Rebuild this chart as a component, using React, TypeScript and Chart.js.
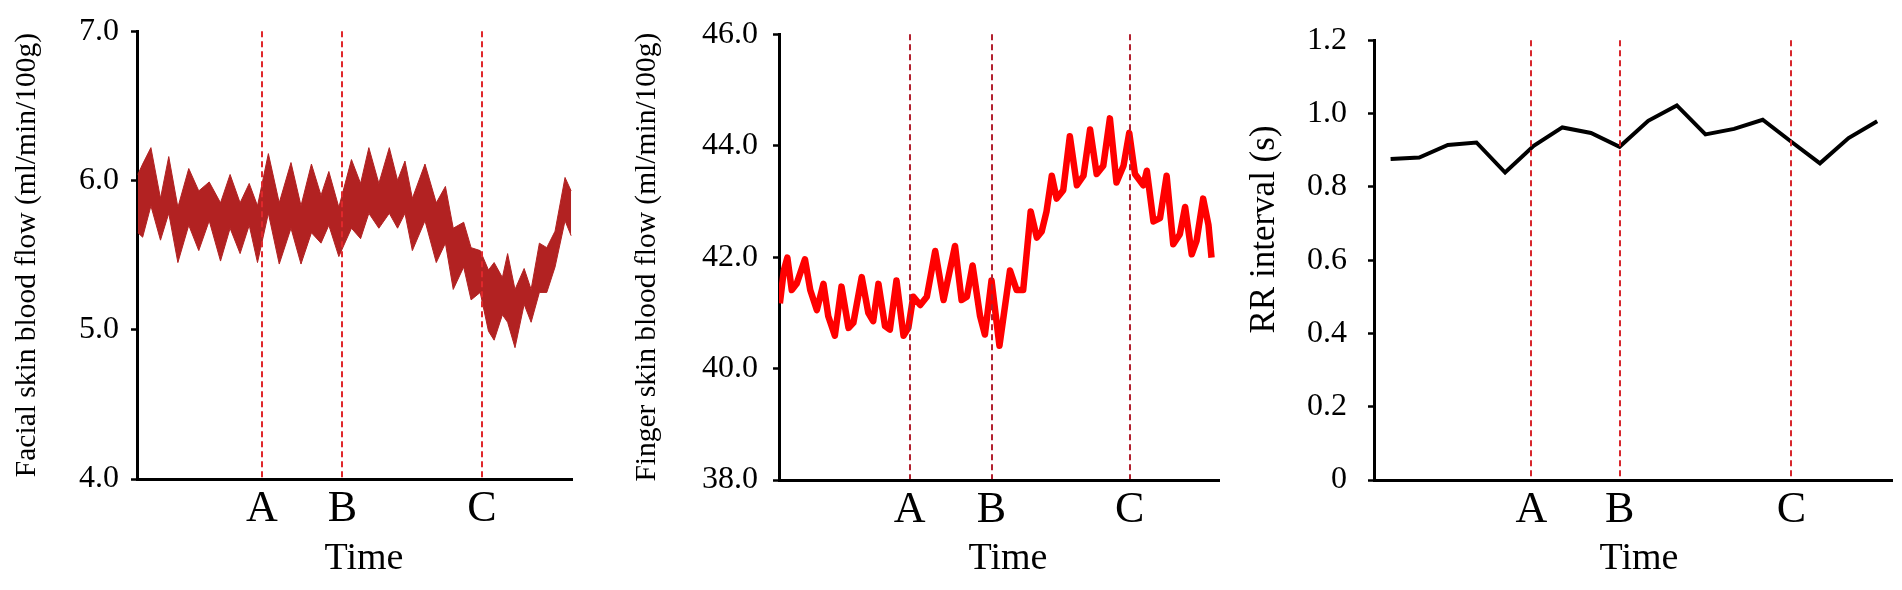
import React, { useEffect, useRef } from 'react';
import { Chart, registerables } from 'chart.js';

Chart.register(...registerables);

const FONT = "'Liberation Serif', 'Times New Roman', Times, serif";
Chart.defaults.font.family = FONT;
Chart.defaults.color = '#000';

// ---------- shared ----------
const eventLabels = ['A', 'B', 'C'];
const xAxisTitle = 'Time';

// ---------- Panel 1: facial skin blood flow (band: upper / lower envelope) ----------
const faceTime = [0.2, 1.3, 3.2, 5.4, 7.3, 9.4, 11.9, 14.2, 16.6, 19.2, 21.4, 23.7, 25.8, 27.7, 30.2, 32.7, 35.4, 37.7, 40.1, 42.3, 44.1, 46.4, 49.3, 51.4, 53.3, 55.6, 58.0, 59.9, 61.6, 63.3, 66.2, 68.8, 70.9, 72.7, 75.1, 76.8, 78.9, 80.8, 82.1, 84.0, 85.2, 86.9, 89.0, 90.6, 92.5, 94.2, 96.1, 98.4, 99.8];
const faceUpper = [6.04, 6.11, 6.22, 5.88, 6.16, 5.82, 6.08, 5.93, 5.99, 5.85, 6.04, 5.85, 5.98, 5.83, 6.18, 5.85, 6.12, 5.83, 6.11, 5.90, 6.06, 5.82, 6.14, 5.98, 6.22, 5.98, 6.22, 6.00, 6.13, 5.88, 6.11, 5.85, 5.96, 5.68, 5.72, 5.55, 5.53, 5.40, 5.45, 5.35, 5.51, 5.27, 5.41, 5.27, 5.58, 5.55, 5.66, 6.02, 5.93];
const faceLower = [5.65, 5.62, 5.83, 5.60, 5.78, 5.45, 5.70, 5.53, 5.73, 5.46, 5.68, 5.51, 5.70, 5.45, 5.78, 5.44, 5.68, 5.44, 5.65, 5.58, 5.70, 5.49, 5.68, 5.61, 5.78, 5.68, 5.78, 5.68, 5.78, 5.53, 5.73, 5.45, 5.58, 5.27, 5.42, 5.20, 5.25, 4.99, 4.93, 5.10, 5.05, 4.88, 5.17, 5.05, 5.25, 5.25, 5.42, 5.73, 5.63];
const faceEvents = [28.7, 47.2, 79.3];
const faceTicks = [4, 5, 6, 7];

// ---------- Panel 2: finger skin blood flow ----------
const fingerTime = [0.2, 1.1, 1.9, 2.9, 4.0, 5.9, 7.1, 8.6, 10.1, 11.2, 12.7, 14.2, 15.8, 16.9, 18.8, 20.3, 21.4, 22.6, 24.1, 25.2, 26.7, 28.3, 29.4, 30.5, 32.1, 33.6, 35.5, 37.4, 40.0, 41.5, 42.7, 44.0, 45.7, 46.8, 48.3, 50.1, 52.5, 54.0, 55.5, 57.2, 58.6, 59.7, 60.8, 62.0, 63.1, 64.6, 66.1, 67.7, 69.2, 70.7, 72.2, 73.7, 75.2, 76.7, 78.3, 79.6, 80.9, 82.8, 83.6, 85.1, 86.6, 88.1, 89.6, 91.1, 92.3, 93.8, 94.9, 96.4, 97.6, 98.3];
const fingerFlow = [41.17, 41.76, 41.99, 41.41, 41.52, 41.96, 41.41, 41.05, 41.52, 40.94, 40.59, 41.47, 40.73, 40.82, 41.64, 41.00, 40.85, 41.52, 40.76, 40.70, 41.58, 40.59, 40.73, 41.29, 41.14, 41.29, 42.11, 41.23, 42.20, 41.23, 41.29, 41.85, 40.94, 40.61, 41.58, 40.41, 41.76, 41.41, 41.41, 42.82, 42.35, 42.46, 42.82, 43.46, 43.05, 43.20, 44.17, 43.29, 43.46, 44.29, 43.49, 43.64, 44.49, 43.34, 43.64, 44.23, 43.49, 43.29, 43.55, 42.64, 42.70, 43.46, 42.23, 42.41, 42.90, 42.05, 42.29, 43.05, 42.58, 41.99];
const fingerEvents = [29.7, 48.3, 79.7];
const fingerTicks = [38, 40, 42, 44, 46];

// ---------- Panel 3: RR interval ----------
const rrBeat = [0, 1, 2, 3, 4, 5, 6, 7, 8, 9, 10, 11, 12, 13, 14, 15, 16, 17];
const rrInterval = [0.876, 0.880, 0.914, 0.921, 0.839, 0.912, 0.962, 0.947, 0.909, 0.980, 1.022, 0.943, 0.958, 0.983, 0.923, 0.864, 0.933, 0.979];
const rrEvents = [4.92, 8.0, 14.0];
const rrTicks = [0, 0.2, 0.4, 0.6, 0.8, 1.0, 1.2];

const pts = (xs: number[], ys: number[]) => xs.map((x, i) => ({ x, y: ys[i] }));

type PanelOpts = {
  xMin: number;
  xMax: number;
  events: number[];
  dashColor: string;
  yTicks: number[];
  yFormat: (v: number) => string;
  yTitle: string;
  yTitleSize: number;
  yTitlePad: number;
  yWidth: number;
  yTickPad: number;
  rightWidth: number;
  xHeight: number;
  padTop: number;
};

const TITLE_SIZE = 38;
const TITLE_PAD_BOTTOM = 8;

function buildOptions(p: PanelOpts): any {
  const yMin = p.yTicks[0];
  const yMax = p.yTicks[p.yTicks.length - 1];
  return {
    responsive: false,
    animation: false,
    events: [],
    layout: { padding: { left: 0, right: 0, top: p.padTop, bottom: 0 } },
    plugins: {
      legend: { display: false },
      tooltip: { enabled: false },
      title: {
        display: true,
        position: 'bottom',
        align: 'center',
        fullSize: true,
        text: xAxisTitle,
        color: '#000',
        font: { family: FONT, size: TITLE_SIZE, weight: 'normal', lineHeight: 1.2 },
        padding: { top: 0, bottom: TITLE_PAD_BOTTOM },
      },
    },
    elements: { point: { radius: 0 }, line: { tension: 0 } },
    scales: {
      x: {
        type: 'linear',
        min: p.xMin,
        max: p.xMax,
        afterBuildTicks: (s: any) => {
          s.ticks = p.events.map((v) => ({ value: v }));
        },
        afterFit: (s: any) => {
          s.height = p.xHeight;
        },
        ticks: {
          autoSkip: false,
          maxRotation: 0,
          minRotation: 0,
          padding: 4,
          color: '#000',
          font: { family: FONT, size: 44 },
          callback: (_v: any, i: number) => eventLabels[i],
        },
        grid: {
          display: true,
          drawOnChartArea: true,
          drawTicks: false,
          color: p.dashColor,
          lineWidth: 2,
          z: 1,
        },
        border: { display: true, color: '#000', width: 3, dash: [6, 4], z: 1 },
        title: { display: false },
      },
      y: {
        type: 'linear',
        position: 'left',
        min: yMin,
        max: yMax,
        afterBuildTicks: (s: any) => {
          s.ticks = p.yTicks.map((v) => ({ value: v }));
        },
        afterFit: (s: any) => {
          s.width = p.yWidth;
        },
        ticks: {
          padding: p.yTickPad,
          color: '#000',
          font: { family: FONT, size: 32 },
          callback: (v: any) => p.yFormat(Number(v)),
        },
        grid: {
          display: true,
          drawOnChartArea: false,
          drawTicks: true,
          tickLength: 6,
          tickColor: '#000',
          tickWidth: 2.5,
        },
        border: { display: true, color: '#000', width: 3 },
        title: {
          display: true,
          text: p.yTitle,
          color: '#000',
          font: { family: FONT, size: p.yTitleSize },
          padding: { top: p.yTitlePad, bottom: 0 },
        },
      },
      // empty spacer on the right so that the bottom title is centred where the original's is
      yRight: {
        type: 'linear',
        position: 'right',
        display: true,
        afterFit: (s: any) => {
          s.width = p.rightWidth;
        },
        ticks: { display: false },
        grid: { display: false, drawTicks: false },
        border: { display: false },
        title: { display: false },
      },
    },
  };
}

function ChartCanvas({ left, width, make }: { left: number; width: number; make: () => any }) {
  const ref = useRef<HTMLCanvasElement>(null);
  useEffect(() => {
    const chart = new Chart(ref.current as HTMLCanvasElement, make());
    return () => chart.destroy();
  }, []);
  return (
    <canvas
      ref={ref}
      width={width}
      height={590}
      style={{ position: 'absolute', left, top: 0, width, height: 590, display: 'block' }}
    />
  );
}

const FACE_COLOR = '#b22222';
const FINGER_COLOR = '#ff0000';

// title box height = 38*1.2 + 8 = 53.6 ; chart bottom = 590 - 53.6 - xHeight
const makeFace = () => ({
  type: 'line',
  data: {
    datasets: [
      {
        data: pts(faceTime, faceUpper),
        yAxisID: 'y',
        borderColor: FACE_COLOR,
        backgroundColor: FACE_COLOR,
        borderWidth: 1,
        pointRadius: 0,
        fill: '+1',
      },
      {
        data: pts(faceTime, faceLower),
        yAxisID: 'y',
        borderColor: FACE_COLOR,
        backgroundColor: FACE_COLOR,
        borderWidth: 1,
        pointRadius: 0,
        fill: false,
      },
    ],
  },
  options: buildOptions({
    xMin: 0,
    xMax: 100,
    events: faceEvents,
    dashColor: '#e0282c',
    yTicks: faceTicks,
    yFormat: (v) => v.toFixed(1),
    yTitle: 'Facial skin blood flow (ml/min/100g)',
    yTitleSize: 29.5,
    yTitlePad: 10,
    yWidth: 137,
    yTickPad: 12,
    rightWidth: 728 - 572,
    xHeight: 57.4,
    padTop: 27,
  }),
});

const makeFinger = () => ({
  type: 'line',
  data: {
    datasets: [
      {
        data: pts(fingerTime, fingerFlow),
        yAxisID: 'y',
        borderColor: FINGER_COLOR,
        backgroundColor: FINGER_COLOR,
        borderWidth: 6.5,
        borderJoinStyle: 'round',
        pointRadius: 0,
        fill: false,
      },
    ],
  },
  options: buildOptions({
    xMin: 0,
    xMax: 100,
    events: fingerEvents,
    dashColor: '#b3202e',
    yTicks: fingerTicks,
    yFormat: (v) => v.toFixed(1),
    yTitle: 'Finger skin blood flow (ml/min/100g)',
    yTitleSize: 29.5,
    yTitlePad: 10,
    yWidth: 159,
    yTickPad: 15,
    rightWidth: 776 - 599,
    xHeight: 56.4,
    padTop: 26,
  }),
});

const makeRR = () => ({
  type: 'line',
  data: {
    datasets: [
      {
        data: pts(rrBeat, rrInterval),
        yAxisID: 'y',
        borderColor: '#000',
        backgroundColor: '#000',
        borderWidth: 4,
        borderJoinStyle: 'miter',
        pointRadius: 0,
        fill: false,
      },
    ],
  },
  options: buildOptions({
    xMin: -0.58,
    xMax: 17.5,
    events: rrEvents,
    dashColor: '#d8262c',
    yTicks: rrTicks,
    yFormat: (v) => (v === 0 ? '0' : v.toFixed(1)),
    // leading spaces lift the label above the plot centre, as in the original
    yTitle: '       RR interval (s)',
    yTitleSize: 35,
    yTitlePad: 4,
    yWidth: 134,
    yTickPad: 21,
    rightWidth: 798 - 651.5,
    xHeight: 56.4,
    padTop: 29,
  }),
});

export default function App() {
  return (
    <div
      style={{
        position: 'absolute',
        left: 0,
        top: 0,
        width: 1902,
        height: 590,
        background: '#ffffff',
        overflow: 'hidden',
      }}
    >
      <ChartCanvas left={0} width={728} make={makeFace} />
      <ChartCanvas left={620} width={776} make={makeFinger} />
      <ChartCanvas left={1240} width={798} make={makeRR} />
    </div>
  );
}
